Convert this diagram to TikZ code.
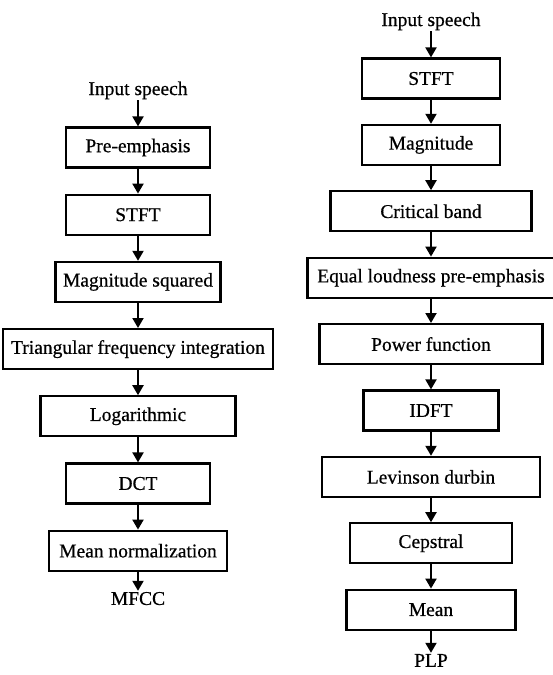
\documentclass[tikz,border=0pt]{standalone}
\usepackage{fontspec}
\setmainfont{Liberation Serif}[FakeBold=0.6]
\usepackage{tikz}
\usetikzlibrary{arrows.meta,positioning}

\begin{document}
\begin{tikzpicture}[
  x=1pt,y=1pt,
  font=\fontsize{19.5}{22}\selectfont,
  blk/.style={draw,line width=2.2pt,minimum height=40pt,inner sep=0pt},
  lbl/.style={inner sep=1pt},
  arr/.style={-{Triangle[length=10pt,width=11pt]},line width=2pt}
]
  \useasboundingbox (0,0) rectangle (552,-675);
  % MFCC chain
  \begin{scope}[node distance=25pt]
  \node[blk,minimum width=144pt] (pre) at (138,-147.5) {Pre-emphasis};
  \node[lbl,above=26pt of pre] (inL) {Input speech};
  \node[blk,minimum width=144pt,below=of pre] (stftL) {STFT};
  \node[blk,minimum width=165pt,below=of stftL] (magsq) {Magnitude squared};
  \node[blk,minimum width=270pt,below=of magsq] (tri) {Triangular frequency integration};
  \node[blk,minimum width=195pt,below=of tri] (log) {Logarithmic};
  \node[blk,minimum width=144pt,below=of log] (dct) {DCT};
  \node[blk,minimum width=178pt,below=of dct] (mnorm) {Mean normalization};
  \node[lbl,below=19pt of mnorm] (mfcc) {MFCC};
  \draw[arr] (inL) -- (pre);
  \draw[arr] (pre) -- (stftL);
  \draw[arr] (stftL) -- (magsq);
  \draw[arr] (magsq) -- (tri);
  \draw[arr] (tri) -- (log);
  \draw[arr] (log) -- (dct);
  \draw[arr] (dct) -- (mnorm);
  \draw[arr] (mnorm) -- (mfcc);
  \end{scope}
  % PLP chain
  \begin{scope}[node distance=24.2pt]
  \node[blk,minimum width=138pt] (stftR) at (431,-78.5) {STFT};
  \node[lbl,above=26pt of stftR] (inR) {Input speech};
  \node[blk,minimum width=138pt,below=of stftR] (mag) {Magnitude};
  \node[blk,minimum width=201pt,below=of mag] (crit) {Critical band};
  \node[blk,minimum width=247pt,below=of crit] (eql) {Equal loudness pre-emphasis};
  \node[blk,minimum width=223pt,below=of eql] (pow) {Power function};
  \node[blk,minimum width=135pt,below=of pow] (idft) {IDFT};
  \node[blk,minimum width=218pt,below=of idft] (lev) {Levinson durbin};
  \node[blk,minimum width=162pt,below=of lev] (cep) {Cepstral};
  \node[blk,minimum width=169pt,below=of cep] (mean) {Mean};
  \node[lbl,below=22pt of mean] (plp) {PLP};
  \draw[arr] (inR) -- (stftR);
  \draw[arr] (stftR) -- (mag);
  \draw[arr] (mag) -- (crit);
  \draw[arr] (crit) -- (eql);
  \draw[arr] (eql) -- (pow);
  \draw[arr] (pow) -- (idft);
  \draw[arr] (idft) -- (lev);
  \draw[arr] (lev) -- (cep);
  \draw[arr] (cep) -- (mean);
  \draw[arr] (mean) -- (plp);
  \end{scope}
\end{tikzpicture}
\end{document}
